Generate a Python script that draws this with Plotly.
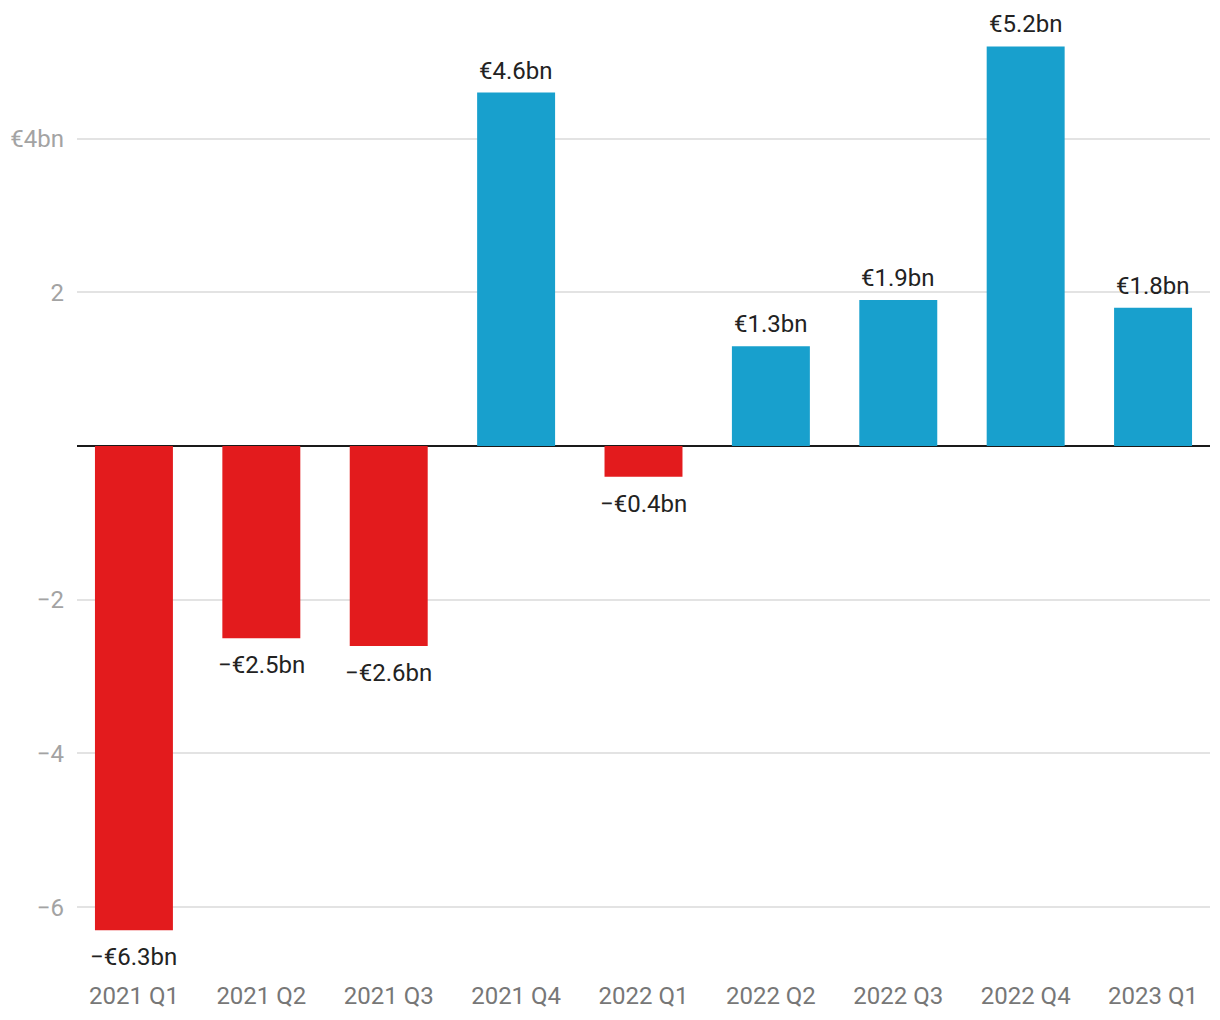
import plotly.graph_objects as go

categories = ["2021 Q1", "2021 Q2", "2021 Q3", "2021 Q4", "2022 Q1",
              "2022 Q2", "2022 Q3", "2022 Q4", "2023 Q1"]
values = [-6.3, -2.5, -2.6, 4.6, -0.4, 1.3, 1.9, 5.2, 1.8]
labels = ["−€6.3bn", "−€2.5bn", "−€2.6bn", "€4.6bn", "−€0.4bn",
          "€1.3bn", "€1.9bn", "€5.2bn", "€1.8bn"]
y_tickvals = [4, 2, 0, -2, -4, -6]
y_ticktext = ["€4bn", "2", "", "−2", "−4", "−6"]

POS = "#18a0cd"
NEG = "#e31b1d"
colors = [POS if v >= 0 else NEG for v in values]
xs = list(range(len(categories)))

fig = go.Figure()
fig.add_trace(go.Bar(
    x=xs, y=values, marker=dict(color=colors, line=dict(width=0)),
    width=0.612, hoverinfo="skip",
))

for x, v, t in zip(xs, values, labels):
    fig.add_annotation(
        x=x, y=v, text=t, showarrow=False,
        yanchor="bottom" if v >= 0 else "top",
        yshift=6 if v >= 0 else -11,
        font=dict(family="Roboto", size=24, color="#222222"),
    )

fig.update_layout(
    width=1204, height=1004,
    margin=dict(l=68, r=2, t=5, b=34),
    paper_bgcolor="white", plot_bgcolor="white",
    showlegend=False,
    font=dict(family="Roboto"),
    xaxis=dict(
        range=[-0.447, 8.447],
        tickvals=xs, ticktext=categories,
        showgrid=False, zeroline=False, showline=False,
        tickfont=dict(family="Roboto", size=24, color="#777777"),
        ticks="", ticklabelstandoff=3,
    ),
    yaxis=dict(
        range=[-6.896, 5.636],
        tickvals=y_tickvals, ticktext=y_ticktext,
        showgrid=True, gridcolor="#e3e3e3", gridwidth=1.5,
        zeroline=True, zerolinecolor="#1a1a1a", zerolinewidth=2,
        showline=False, ticks="",
        tickfont=dict(family="Roboto", size=24, color="#a3a3a3"),
        ticklabelstandoff=12,
    ),
)

fig.write_html("out.html")
